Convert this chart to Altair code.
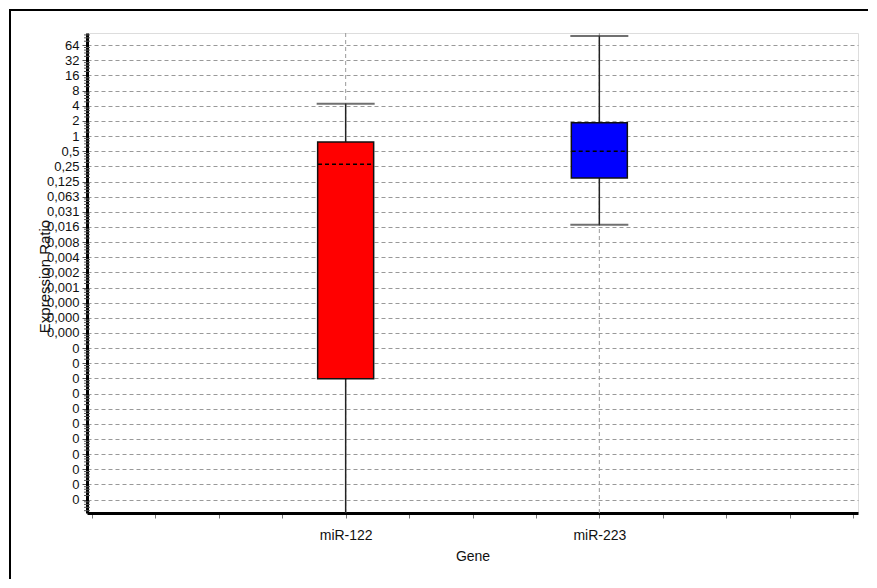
import json
import altair as alt
import pandas as pd

# ---- data ----
genes = ["miR-122", "miR-223"]
gene_pos = [4, 8]                      # position on the 0..12 category axis
whisker_low = [2 ** -27, 0.0172]
q1 = [1.5e-5, 0.146]
median = [0.275, 0.5]
q3 = [0.76, 1.83]
whisker_high = [4.4, 97.0]
box_colors = ["#FF0000", "#0000FF"]

y_tick_values = [2.0 ** k for k in range(6, -25, -1)]
y_tick_labels = ["64", "32", "16", "8", "4", "2", "1",
                 "0,5", "0,25", "0,125", "0,063", "0,031", "0,016", "0,008",
                 "0,004", "0,002", "0,001", "0,000", "0,000", "0,000",
                 "0", "0", "0", "0", "0", "0", "0", "0", "0", "0", "0"]
x_tick_values = list(range(0, 13))

minor_ticks = [2.0 ** k * f for k in range(-25, 7) for f in (1.2, 1.4, 1.6, 1.8)]

# ---- layout constants ----
W, H = 771, 480
PAD_L, PAD_T, PAD_R, PAD_B = 79, 25, 11, 67
BOX_PX = 56
HALF = (BOX_PX / 2) / (W / 12)
FONT = "Liberation Sans"
Y_DOMAIN = [2 ** -24.89, 2 ** 6.806]

df = pd.DataFrame({
    "gene": genes, "pos": gene_pos, "lo": whisker_low, "q1": q1,
    "med": median, "q3": q3, "hi": whisker_high,
})
minor_df = pd.DataFrame({"v": [m for m in minor_ticks if Y_DOMAIN[0] <= m <= Y_DOMAIN[1]]})

xscale = alt.Scale(domain=[0, 12], nice=False, zero=False)
yscale = alt.Scale(type="log", base=2, domain=Y_DOMAIN, nice=False)

label_expr_y = json.dumps(y_tick_labels) + "[round(6 - log(datum.value)/LN2)]"
label_expr_x = " : ".join(
    f"datum.value == {p} ? '{g}'" for g, p in zip(genes, gene_pos)) + " : ''"

x_axis = alt.Axis(values=x_tick_values, labelExpr=label_expr_x, grid=False,
                  domainColor="black", domainWidth=3, tickSize=5, tickColor="#777",
                  labelFont=FONT, labelFontSize=14, labelColor="#111",
                  labelPadding=10, labelAngle=0, labelOverlap=False,
                  title="Gene", titleFont=FONT, titleFontSize=14,
                  titleFontWeight="normal", titleColor="#111", titlePadding=7)

y_axis = alt.Axis(values=y_tick_values, labelExpr=label_expr_y, grid=True,
                  gridDash=[4, 3], gridColor="#999999", gridWidth=1,
                  domainColor="black", domainWidth=3, tickSize=5, tickColor="#555",
                  labelFont=FONT, labelFontSize=13, labelColor="#111",
                  labelPadding=3, labelOverlap=False, labelBound=False,
                  title="Expression Ratio", titleFont=FONT, titleFontSize=15,
                  titleFontWeight="normal", titleColor="#111", titleAngle=-90,
                  titleX=-43, titleY=243, titleAlign="center",
                  titleBaseline="middle")

base = alt.Chart(df)

vgrid = base.mark_rule(strokeDash=[4, 3], color="#999999", strokeWidth=1).encode(
    x=alt.X("pos:Q", scale=xscale, axis=x_axis),
    y=alt.value(0), y2=alt.value(H))

whisk = base.mark_rule(color="#222", strokeWidth=1.5, clip=True).encode(
    x=alt.X("pos:Q", scale=xscale),
    y=alt.Y("lo:Q", scale=yscale, axis=y_axis), y2="hi:Q")

cap_lo = base.mark_tick(orient="horizontal", size=BOX_PX + 2, thickness=2,
                        color="#333", clip=True).encode(
    x=alt.X("pos:Q", scale=xscale), y=alt.Y("lo:Q", scale=yscale))
cap_hi = base.mark_tick(orient="horizontal", size=BOX_PX + 2, thickness=2,
                        color="#333", clip=True).encode(
    x=alt.X("pos:Q", scale=xscale), y=alt.Y("hi:Q", scale=yscale))

box = base.mark_bar(size=BOX_PX, stroke="#111", strokeWidth=1.5).encode(
    x=alt.X("pos:Q", scale=xscale),
    y=alt.Y("q1:Q", scale=yscale), y2="q3:Q",
    color=alt.Color("gene:N", scale=alt.Scale(domain=genes, range=box_colors),
                    legend=None))

med = base.transform_calculate(
    xl=f"datum.pos - {HALF}", xr=f"datum.pos + {HALF}"
).mark_rule(color="black", strokeWidth=1.5, strokeDash=[4, 3]).encode(
    x=alt.X("xl:Q", scale=xscale), x2="xr:Q",
    y=alt.Y("med:Q", scale=yscale))

minor = alt.Chart(minor_df).mark_rule(color="#555", strokeWidth=1).encode(
    y=alt.Y("v:Q", scale=yscale), x=alt.value(-3), x2=alt.value(3))

# outer panel frame: top and left edges as thin filled strips
frame_left = alt.Chart(df.head(1)).mark_rect(color="black", strokeWidth=0).encode(
    x=alt.value(-PAD_L + 1), x2=alt.value(-PAD_L + 3),
    y=alt.value(-PAD_T + 1), y2=alt.value(H + PAD_B - 1))
frame_top = alt.Chart(df.head(1)).mark_rect(color="black", strokeWidth=0).encode(
    x=alt.value(-PAD_L + 1), x2=alt.value(W + PAD_R - 1),
    y=alt.value(-PAD_T + 1), y2=alt.value(-PAD_T + 3))

chart = alt.layer(vgrid, whisk, cap_lo, cap_hi, box, med, minor,
                  frame_left, frame_top).properties(
    width=W, height=H,
    autosize=alt.AutoSizeParams(type="none"),
    padding={"left": PAD_L, "top": PAD_T, "right": PAD_R, "bottom": PAD_B},
).configure_view(strokeWidth=0).configure(background="white")

chart.save("out.html", embed_options={"renderer": "svg", "actions": False})
